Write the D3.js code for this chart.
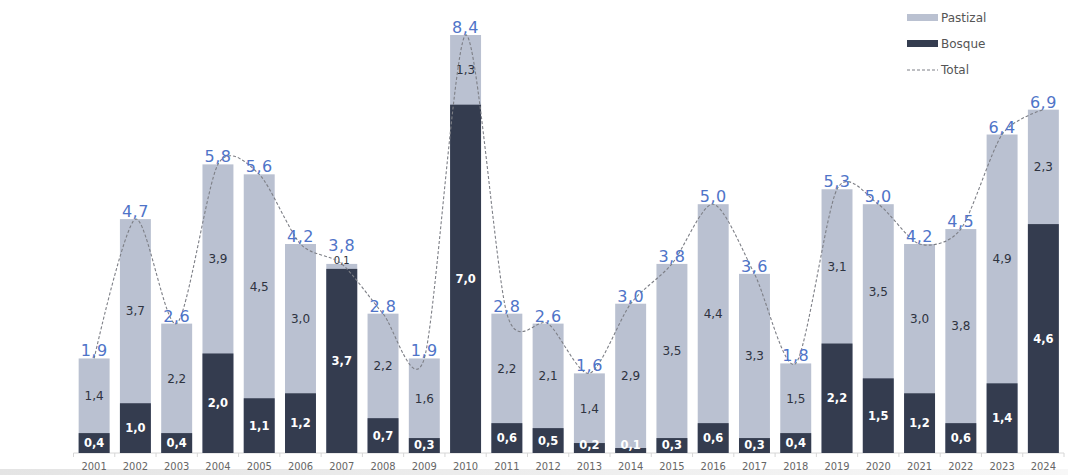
<!DOCTYPE html>
<html>
<head>
<meta charset="utf-8">
<script src="https://cdn.jsdelivr.net/npm/d3@7"></script>
<style>
  html, body { margin: 0; padding: 0; background: #fff; }
  svg { display: block; }
</style>
</head>
<body>
<svg id="chart" width="1068" height="475"></svg>
<script>
// values (hectares, thousands)
const years = ["2001","2002","2003","2004","2005","2006","2007","2008","2009","2010","2011","2012",
  "2013","2014","2015","2016","2017","2018","2019","2020","2021","2022","2023","2024"];
const bosque = [0.4,1.0,0.4,2.0,1.1,1.2,3.7,0.7,0.3,7.0,0.6,0.5,0.2,0.1,0.3,0.6,0.3,0.4,2.2,1.5,1.2,0.6,1.4,4.6];
const pastizal = [1.4,3.7,2.2,3.9,4.5,3.0,0.1,2.2,1.6,1.3,2.2,2.1,1.4,2.9,3.5,4.4,3.3,1.5,3.1,3.5,3.0,3.8,4.9,2.3];
const total = [1.9,4.7,2.6,5.8,5.6,4.2,3.8,2.8,1.9,8.4,2.8,2.6,1.6,3.0,3.8,5.0,3.6,1.8,5.3,5.0,4.2,4.5,6.4,6.9];
const legendItems = ["Pastizal","Bosque","Total"];

const cLight = "#bac1d1", cDark = "#343c4f", cBlue = "#4f74c8";
const fmt = v => v.toFixed(1).replace(".", ",");

const svg = d3.select("#chart");
const base = 453;
const x = d3.scaleBand().domain(years).range([73.5, 1064]).paddingInner(0.25).paddingOuter(0.125);
const y = d3.scaleLinear().domain([0, 8.4]).range([base, 35]);

const rows = years.map((yr, i) => ({yr, b: bosque[i], p: pastizal[i], t: total[i]}));
const thin = d => y(d.b) - y(d.t) < 14;

// bottom screen strip
const grad = svg.append("defs").append("linearGradient").attr("id", "strip");
grad.append("stop").attr("offset", "0%").attr("stop-color", "#e4e4e4");
grad.append("stop").attr("offset", "100%").attr("stop-color", "#f7f7f7");
svg.append("rect").attr("x", 0).attr("y", 469).attr("width", 1068).attr("height", 6).attr("fill", "url(#strip)");

// axis
const axis = svg.append("g").attr("transform", `translate(0,${base})`);
axis.append("line").attr("x1", 73.5).attr("x2", 1064).attr("stroke", "#d6d6d6");
const step = x.step();
axis.selectAll("line.tk").data(d3.range(years.length + 1)).join("line")
  .attr("class", "tk")
  .attr("x1", i => 73.5 + i * step).attr("x2", i => 73.5 + i * step)
  .attr("y1", 0).attr("y2", 4).attr("stroke", "#d6d6d6");
axis.selectAll("text").data(years).join("text")
  .attr("x", d => x(d) + x.bandwidth() / 2).attr("y", 17)
  .attr("text-anchor", "middle")
  .attr("font-family", "'Liberation Sans Narrow','DejaVu Sans Condensed',sans-serif")
  .attr("font-size", 11).attr("fill", "#666").text(d => d);

// bars
const g = svg.append("g");
g.selectAll("rect.p").data(rows).join("rect").attr("class", "p")
  .attr("x", d => x(d.yr)).attr("width", x.bandwidth())
  .attr("y", d => y(d.t)).attr("height", d => base - y(d.t)).attr("fill", cLight);
g.selectAll("rect.b").data(rows).join("rect").attr("class", "b")
  .attr("x", d => x(d.yr)).attr("width", x.bandwidth())
  .attr("y", d => y(d.b)).attr("height", d => base - y(d.b)).attr("fill", cDark);

// segment labels
g.selectAll("text.bl").data(rows).join("text").attr("class", "bl")
  .attr("x", d => x(d.yr) + x.bandwidth() / 2)
  .attr("y", d => Math.min((y(d.b) + base) / 2, base - 8))
  .attr("dy", "0.36em").attr("text-anchor", "middle")
  .attr("font-family", "'DejaVu Sans',sans-serif").attr("font-weight", "bold")
  .attr("font-size", 11.5).attr("fill", "#fff").text(d => fmt(d.b));
g.selectAll("text.pl").data(rows).join("text").attr("class", "pl")
  .attr("x", d => x(d.yr) + x.bandwidth() / 2)
  .attr("y", d => thin(d) ? y(d.t) - 4 : (y(d.t) + y(d.b)) / 2)
  .attr("dy", "0.36em").attr("text-anchor", "middle")
  .attr("font-family", "'DejaVu Sans',sans-serif")
  .attr("font-size", d => thin(d) ? 10 : 12).attr("fill", "#2e3340").text(d => fmt(d.p));

// total line
const line = d3.line()
  .x(d => x(d.yr) + x.bandwidth() / 2)
  .y(d => y(d.t))
  .curve(d3.curveCardinal.tension(0.2));
svg.append("path").datum(rows).attr("d", line)
  .attr("fill", "none").attr("stroke", "#7d7f86").attr("stroke-width", 1.1)
  .attr("stroke-dasharray", "3,2");

// total labels
svg.append("g").selectAll("text").data(rows).join("text")
  .attr("x", d => x(d.yr) + x.bandwidth() / 2)
  .attr("y", d => y(d.t) - (thin(d) ? 13 : 2))
  .attr("text-anchor", "middle")
  .attr("font-family", "'DejaVu Sans',sans-serif")
  .attr("font-size", 16).attr("letter-spacing", 0.5)
  .attr("fill", cBlue).text(d => fmt(d.t));

// legend
const lg = svg.append("g").attr("transform", "translate(907,0)");
const ly = [17.5, 43.5, 70];
lg.selectAll("g").data(legendItems).join("g")
  .attr("transform", (d, i) => `translate(0,${ly[i]})`)
  .each(function(d, i) {
    const s = d3.select(this);
    if (i < 2) {
      s.append("rect").attr("x", 0).attr("y", -3.5).attr("width", 31).attr("height", 7)
        .attr("fill", i === 0 ? cLight : cDark);
    } else {
      s.append("line").attr("x1", 0).attr("x2", 31).attr("stroke", "#7d7f86")
        .attr("stroke-width", 1).attr("stroke-dasharray", "3,2");
    }
    s.append("text").attr("x", 34).attr("dy", "0.36em")
      .attr("font-family", "'DejaVu Sans',sans-serif").attr("font-size", 12)
      .attr("fill", "#555").text(d);
  });
</script>
</body>
</html>
